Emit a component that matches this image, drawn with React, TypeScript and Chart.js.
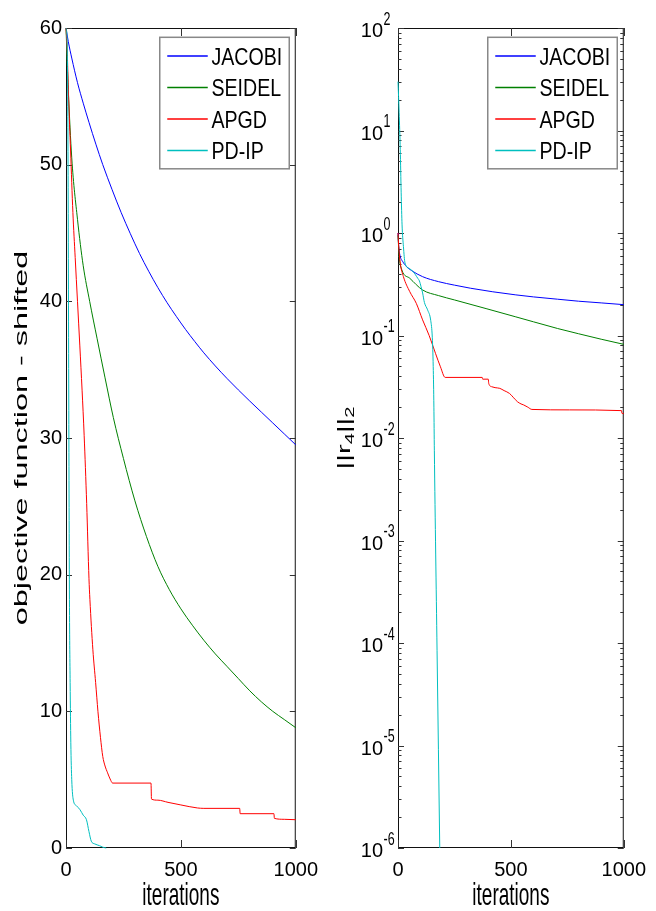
import React, { useEffect, useRef } from "react";
import { Chart, registerables } from "chart.js";

Chart.register(...registerables);

const FONT_FAMILY = '"Liberation Sans", Arial, Helvetica, sans-serif';

const SERIES_LABELS = ["JACOBI", "SEIDEL", "APGD", "PD-IP"];
const SERIES_COLORS = ["#0000ff", "#008000", "#ff0000", "#00bfbf"];

const X_TICKS = [0, 500, 1000];
const OBJ_TICKS = [0, 10, 20, 30, 40, 50, 60];
const RES_EXPONENTS = [-6, -5, -4, -3, -2, -1, 0, 1, 2];

const X_TITLE = "iterations";
const OBJ_TITLE = "objective function - shifted";
const RES_TITLE_PARTS = ["||r", "4", "||", "2"]; // normal, subscript, normal, subscript

// ---- left panel: objective function - shifted ----
const JACOBI_OBJ_ITER = [0, 10, 25, 50, 75, 100, 130, 160, 200, 240, 280, 320, 360, 400, 440, 480, 520, 560, 600, 650, 700, 750, 800, 850, 900, 950, 1000];
const JACOBI_OBJ = [60, 59.0, 57.8, 56.0, 54.5, 53.1, 51.5, 50.0, 48.2, 46.5, 44.95, 43.5, 42.2, 41.0, 39.9, 38.9, 37.95, 37.07, 36.23, 35.27, 34.37, 33.52, 32.7, 31.9, 31.1, 30.3, 29.5];

const SEIDEL_OBJ_ITER = [0, 10, 25, 50, 75, 103, 135, 170, 206, 250, 300, 350, 400, 450, 500, 550, 600, 650, 700, 750, 800, 850, 900, 950, 1000];
const SEIDEL_OBJ = [60, 55.5, 50.5, 46, 42.6, 40, 37.3, 34.4, 31.5, 28.5, 25.4, 22.8, 20.6, 18.9, 17.5, 16.3, 15.2, 14.2, 13.3, 12.4, 11.5, 10.7, 10.0, 9.4, 8.8];

const APGD_OBJ_ITER = [0, 5, 11, 20, 30, 40, 50, 60, 70, 79, 90, 100, 104, 117, 129, 139, 150, 160, 170, 181, 192, 203, 370, 372, 400, 444, 500, 572, 600, 756, 758, 905, 907, 950, 1000];
const APGD_OBJ = [60, 58.5, 55, 51, 46.5, 43.2, 40.0, 36.8, 33.5, 30.2, 25.2, 19.7, 18.2, 14.5, 12.1, 10, 8.1, 6.7, 6.0, 5.5, 5.05, 4.75, 4.75, 3.58, 3.5, 3.34, 3.15, 2.93, 2.9, 2.9, 2.51, 2.51, 2.17, 2.1, 2.07];

const PDIP_OBJ_ITER = [0, 5, 9, 12, 15, 18, 21, 25, 32, 45, 61, 75, 89, 100, 110, 125, 146, 160, 175];
const PDIP_OBJ = [60, 59, 50, 33, 18.2, 12.1, 7.7, 5.0, 3.5, 3.1, 2.8, 2.4, 2.07, 1.2, 0.5, 0.3, 0.17, 0.06, 0];

// ---- right panel: ||r4||2 (log) ----
const JACOBI_RES_ITER = [0, 3, 10, 20, 38, 60, 109, 180, 250, 322, 420, 522, 600, 707, 800, 900, 1000];
const JACOBI_RES = [1.0, 0.75, 0.59, 0.53, 0.47, 0.43, 0.375, 0.335, 0.31, 0.289, 0.267, 0.249, 0.238, 0.226, 0.216, 0.208, 0.2];

const SEIDEL_RES_ITER = [0, 5, 17, 52, 109, 180, 251, 394, 522, 600, 707, 800, 900, 1000];
const SEIDEL_RES = [0.95, 0.6, 0.436, 0.362, 0.278, 0.245, 0.222, 0.182, 0.152, 0.136, 0.117, 0.104, 0.092, 0.082];

const APGD_RES_ITER = [0, 3, 10, 24, 52, 81, 109, 138, 166, 188, 209, 373, 375, 400, 402, 416, 430, 451, 470, 494, 510, 529, 545, 557, 575, 593, 760, 990, 992, 1000];
const APGD_RES = [1.0, 0.75, 0.51, 0.375, 0.268, 0.206, 0.142, 0.1, 0.067, 0.0495, 0.039, 0.039, 0.0375, 0.0375, 0.034, 0.0316, 0.031, 0.0305, 0.029, 0.0272, 0.025, 0.0226, 0.0215, 0.021, 0.02, 0.019, 0.0188, 0.0185, 0.0174, 0.0173];

const PDIP_RES_ITER = [0, 5, 10, 14, 18, 24, 31, 50, 67, 88, 95, 102, 109, 117, 131, 145, 152, 156, 159, 161, 173, 185];
const PDIP_RES = [30, 15, 6.5, 2.5, 1.2, 0.74, 0.51, 0.45, 0.42, 0.36, 0.34, 0.30, 0.26, 0.21, 0.178, 0.14, 0.095, 0.05, 0.02, 0.0076, 8.5e-5, 1e-6];

type Kind = "obj" | "res";

function buildDatasets(iters: number[][], vals: number[][]) {
  return SERIES_LABELS.map((label, i) => ({
    label,
    data: iters[i].map((x, j) => ({ x, y: vals[i][j] })),
    borderColor: SERIES_COLORS[i],
    backgroundColor: SERIES_COLORS[i],
    borderWidth: 1,
    pointRadius: 0,
    fill: false,
    cubicInterpolationMode: "monotone",
    clip: 1,
    order: SERIES_LABELS.length - i,
  }));
}

function drawText(
  ctx: CanvasRenderingContext2D,
  text: string,
  x: number,
  y: number,
  size: number,
  sx: number,
  sy: number,
  align: CanvasTextAlign = "left",
  rot = 0
) {
  ctx.save();
  ctx.translate(x, y);
  if (rot) ctx.rotate(rot);
  ctx.scale(sx, sy);
  ctx.font = `${size}px ${FONT_FAMILY}`;
  ctx.textAlign = align;
  ctx.textBaseline = "alphabetic";
  ctx.fillStyle = "#000";
  ctx.fillText(text, 0, 0);
  ctx.restore();
}

function makeDecor(kind: Kind) {
  return {
    id: "decor_" + kind,
    beforeDatasetsDraw(chart: any) {
      const ctx: CanvasRenderingContext2D = chart.ctx;
      const a = chart.chartArea;
      const xs = chart.scales.x;
      const ys = chart.scales.y;
      ctx.save();
      // frame
      ctx.strokeStyle = "#111";
      ctx.lineWidth = 1;
      ctx.strokeRect(a.left + 0.5, a.top + 0.5, a.right - a.left - 1, a.bottom - a.top - 1);
      // inward tick marks on all four sides
      ctx.strokeStyle = "#333";
      ctx.beginPath();
      for (const v of X_TICKS) {
        const p = Math.round(xs.getPixelForValue(v)) + 0.5;
        ctx.moveTo(p, a.bottom);
        ctx.lineTo(p, a.bottom - 8);
        ctx.moveTo(p, a.top);
        ctx.lineTo(p, a.top + 8);
      }
      const yTick = (v: number, len: number) => {
        const p = Math.round(ys.getPixelForValue(v)) + 0.5;
        ctx.moveTo(a.left, p);
        ctx.lineTo(a.left + len, p);
        ctx.moveTo(a.right, p);
        ctx.lineTo(a.right - len, p);
      };
      if (kind === "obj") {
        for (const v of OBJ_TICKS) yTick(v, 6);
      } else {
        RES_EXPONENTS.forEach((e, i) => {
          yTick(Math.pow(10, e), 6);
          if (i < RES_EXPONENTS.length - 1) {
            for (let m = 2; m <= 9; m++) yTick(m * Math.pow(10, e), 3.5);
          }
        });
      }
      ctx.stroke();
      ctx.restore();
    },
    afterDraw(chart: any) {
      const ctx: CanvasRenderingContext2D = chart.ctx;
      const a = chart.chartArea;
      const ys = chart.scales.y;
      ctx.save();

      // log tick labels 10^n
      if (kind === "res") {
        for (const e of RES_EXPONENTS) {
          const p = ys.getPixelForValue(Math.pow(10, e));
          drawText(ctx, "10", a.left - 15, p + 9, 20, 1, 1.02, "right");
          drawText(ctx, String(e), a.left - 14.5, p - 3.5, 12.5, 1, 1.45, "left");
        }
      }

      // x title
      drawText(ctx, X_TITLE, (a.left + a.right) / 2, 905, 20, 0.95, 1.55, "center");

      // y title
      if (kind === "obj") {
        drawText(ctx, OBJ_TITLE, 27, (a.top + a.bottom) / 2, 18, 1.8, 1, "center", -Math.PI / 2);
      } else {
        const big = 19;
        const small = 13;
        const along = 1.55;
        ctx.save();
        ctx.translate(22, (a.top + a.bottom) / 2);
        ctx.rotate(-Math.PI / 2);
        ctx.scale(along, 1);
        ctx.fillStyle = "#000";
        ctx.textBaseline = "alphabetic";
        ctx.textAlign = "left";
        const widths = RES_TITLE_PARTS.map((s, i) => {
          ctx.font = `${i % 2 ? small : big}px ${FONT_FAMILY}`;
          return ctx.measureText(s).width;
        });
        let x = -widths.reduce((p, c) => p + c, 0) / 2;
        RES_TITLE_PARTS.forEach((s, i) => {
          ctx.font = `${i % 2 ? small : big}px ${FONT_FAMILY}`;
          ctx.fillText(s, x, i % 2 ? 4 : 0);
          x += widths[i];
        });
        ctx.restore();
      }

      // legend
      const bw = 129.5;
      const bh = 131.5;
      const bx = a.right - 6.5 - bw;
      const by = a.top + 9.3;
      ctx.fillStyle = "#fff";
      ctx.fillRect(bx, by, bw, bh);
      ctx.strokeStyle = "#888";
      ctx.lineWidth = 1.5;
      ctx.strokeRect(bx, by, bw, bh);
      chart.data.datasets.forEach((ds: any, i: number) => {
        const ry = by + 18.7 + i * 31.5;
        ctx.strokeStyle = ds.borderColor;
        ctx.lineWidth = 1.3;
        ctx.beginPath();
        ctx.moveTo(bx + 7.5, ry);
        ctx.lineTo(bx + 48, ry);
        ctx.stroke();
        drawText(ctx, ds.label, bx + 51.7, ry + (0.716 * 24.5) / 2, 24.5, 0.8, 1, "left");
      });

      ctx.restore();
    },
  };
}

function makeOptions(kind: Kind): any {
  const tickFont = { family: FONT_FAMILY, size: 20 };
  const isObj = kind === "obj";
  return {
    responsive: false,
    animation: false,
    events: [],
    layout: { padding: { top: 28, right: isObj ? 27 : 24, left: 0, bottom: 0 } },
    plugins: {
      legend: { display: false },
      tooltip: { enabled: false },
      title: { display: false },
    },
    scales: {
      x: {
        type: "linear",
        min: 0,
        max: 1000,
        afterBuildTicks: (s: any) => {
          s.ticks = X_TICKS.map((v) => ({ value: v }));
        },
        afterFit: (s: any) => {
          s.height = 63;
        },
        grid: { display: false, drawTicks: false },
        border: { display: false },
        ticks: {
          font: tickFont,
          color: "#000",
          padding: 10,
          maxRotation: 0,
          minRotation: 0,
          autoSkip: false,
          callback: (v: any) => String(v),
        },
      },
      y: isObj
        ? {
            type: "linear",
            min: 0,
            max: 60,
            afterBuildTicks: (s: any) => {
              s.ticks = OBJ_TICKS.map((v) => ({ value: v }));
            },
            afterFit: (s: any) => {
              s.width = 66;
            },
            grid: { display: false, drawTicks: false },
            border: { display: false },
            ticks: { font: tickFont, color: "#000", padding: 4, callback: (v: any) => String(v) },
          }
        : {
            type: "logarithmic",
            min: 1e-6,
            max: 100,
            afterBuildTicks: (s: any) => {
              s.ticks = RES_EXPONENTS.map((e) => ({ value: Math.pow(10, e), major: true }));
            },
            afterFit: (s: any) => {
              s.width = 70;
            },
            grid: { display: false, drawTicks: false },
            border: { display: false },
            ticks: { display: false },
          },
    },
  };
}

export default function App() {
  const leftRef = useRef<HTMLCanvasElement | null>(null);
  const rightRef = useRef<HTMLCanvasElement | null>(null);

  useEffect(() => {
    const left = new Chart(leftRef.current as HTMLCanvasElement, {
      type: "line",
      data: {
        datasets: buildDatasets(
          [JACOBI_OBJ_ITER, SEIDEL_OBJ_ITER, APGD_OBJ_ITER, PDIP_OBJ_ITER],
          [JACOBI_OBJ, SEIDEL_OBJ, APGD_OBJ, PDIP_OBJ]
        ),
      },
      options: makeOptions("obj"),
      plugins: [makeDecor("obj")],
    } as any);
    const right = new Chart(rightRef.current as HTMLCanvasElement, {
      type: "line",
      data: {
        datasets: buildDatasets(
          [JACOBI_RES_ITER, SEIDEL_RES_ITER, APGD_RES_ITER, PDIP_RES_ITER],
          [JACOBI_RES, SEIDEL_RES, APGD_RES, PDIP_RES]
        ),
      },
      options: makeOptions("res"),
      plugins: [makeDecor("res")],
    } as any);
    return () => {
      left.destroy();
      right.destroy();
    };
  }, []);

  return (
    <div style={{ position: "absolute", left: 0, top: 0, width: 656, height: 911, background: "#fff" }}>
      <canvas ref={leftRef} width={328} height={911} style={{ position: "absolute", left: 0, top: 0 }} />
      <canvas ref={rightRef} width={328} height={911} style={{ position: "absolute", left: 328, top: 0 }} />
    </div>
  );
}
